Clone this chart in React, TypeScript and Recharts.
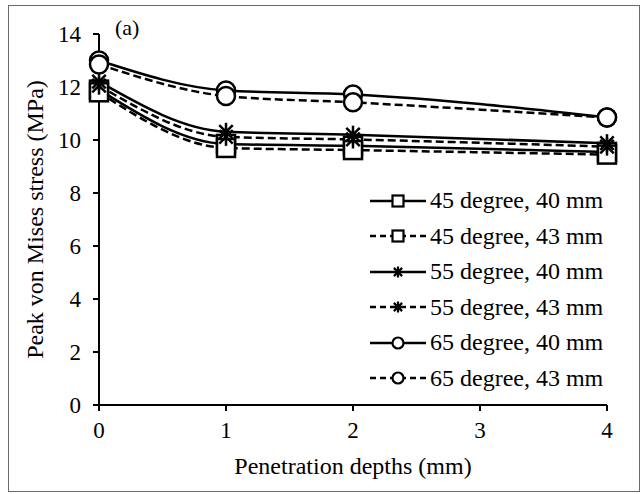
import { LineChart, Line, XAxis, YAxis, Legend } from 'recharts'

// penetration depth (mm) on x, peak von Mises stress (MPa) on y
const depths = [0, 1, 2, 4]
const deg45mm40 = [11.9, 9.85, 9.78, 9.55]
const deg45mm43 = [11.8, 9.7, 9.62, 9.45]
const deg55mm40 = [12.2, 10.31, 10.2, 9.88]
const deg55mm43 = [12.05, 10.12, 10.02, 9.75]
const deg65mm40 = [13.0, 11.87, 11.72, 10.85]
const deg65mm43 = [12.85, 11.66, 11.42, 10.85]

const xTicks = [0, 1, 2, 3, 4]
const yTicks = [0, 2, 4, 6, 8, 10, 12, 14]

const series = [
  { key: 's1', name: '45 degree, 40 mm', values: deg45mm40, marker: 'square', dashed: false },
  { key: 's2', name: '45 degree, 43 mm', values: deg45mm43, marker: 'square', dashed: true },
  { key: 's3', name: '55 degree, 40 mm', values: deg55mm40, marker: 'star', dashed: false },
  { key: 's4', name: '55 degree, 43 mm', values: deg55mm43, marker: 'star', dashed: true },
  { key: 's5', name: '65 degree, 40 mm', values: deg65mm40, marker: 'circle', dashed: false },
  { key: 's6', name: '65 degree, 43 mm', values: deg65mm43, marker: 'circle', dashed: true },
]

const data = depths.map((d, i) => {
  const row: Record<string, number> = { depth: d }
  series.forEach((s) => {
    row[s.key] = s.values[i]
  })
  return row
})

const FONT = "'Liberation Serif', 'Times New Roman', serif"
const DASH = '8 4'

function Marker({ kind, x, y, s, sw }: { kind: string; x: number; y: number; s: number; sw: number }) {
  if (kind === 'square') {
    return <rect x={x - s} y={y - s} width={2 * s} height={2 * s} fill="#fff" stroke="#000" strokeWidth={sw} />
  }
  if (kind === 'circle') {
    return <circle cx={x} cy={y} r={s} fill="#fff" stroke="#000" strokeWidth={sw} />
  }
  const d = s * 0.75
  return (
    <g stroke="#000" strokeWidth={sw}>
      <line x1={x} y1={y - s} x2={x} y2={y + s} />
      <line x1={x - d} y1={y - d} x2={x + d} y2={y + d} />
      <line x1={x - d} y1={y + d} x2={x + d} y2={y - d} />
    </g>
  )
}

const dotFor = (kind: string) => (props: any) => {
  const { cx, cy, index } = props
  if (cx == null || cy == null) return <g key={index} />
  return (
    <g key={`dot-${kind}-${index}`}>
      <Marker kind={kind} x={cx} y={cy} s={9} sw={2.5} />
    </g>
  )
}

function LegendBox() {
  return (
    <div style={{ fontFamily: FONT, fontSize: 24, color: '#000' }}>
      {series.map((s) => (
        <div key={s.key} style={{ display: 'flex', alignItems: 'center', height: 35.5 }}>
          <svg width={58} height={20} style={{ display: 'block' }}>
            <line x1={1} y1={10} x2={57} y2={10} stroke="#000" strokeWidth={2.5} strokeDasharray={s.dashed ? '6 4' : undefined} />
            <Marker kind={s.marker} x={29} y={10} s={5.5} sw={2.2} />
          </svg>
          <span style={{ marginLeft: 3, whiteSpace: 'nowrap' }}>{s.name}</span>
        </div>
      ))}
    </div>
  )
}

export default function App() {
  return (
    <div style={{ position: 'absolute', left: 0, top: 0, width: 641, height: 494, background: '#fff', fontFamily: FONT }}>
      <div
        style={{
          position: 'absolute',
          left: 8,
          top: 5,
          width: 632,
          height: 487,
          border: '1px solid #6b6b6b',
          boxSizing: 'border-box',
        }}
      />
      <div style={{ position: 'absolute', left: 0, top: 0 }}>
        <LineChart width={641} height={494} data={data} margin={{ top: 34, right: 34, left: 34, bottom: 49 }}>
          <XAxis
            dataKey="depth"
            type="number"
            domain={[0, 4]}
            ticks={xTicks}
            height={40}
            tickSize={6}
            tickMargin={11}
            axisLine={{ stroke: '#000', strokeWidth: 2 }}
            tickLine={{ stroke: '#000', strokeWidth: 2 }}
            tick={{ fill: '#000', fontSize: 23, fontFamily: FONT }}
            label={{ value: 'Penetration depths (mm)', position: 'bottom', offset: 12, fill: '#000', fontSize: 24, fontFamily: FONT }}
          />
          <YAxis
            type="number"
            domain={[0, 14]}
            ticks={yTicks}
            width={65}
            tickSize={6}
            tickMargin={12}
            axisLine={{ stroke: '#000', strokeWidth: 2 }}
            tickLine={{ stroke: '#000', strokeWidth: 2 }}
            tick={{ fill: '#000', fontSize: 23, fontFamily: FONT }}
            label={{
              value: 'Peak von Mises stress (MPa)',
              angle: -90,
              position: 'insideLeft',
              offset: 0,
              fill: '#000',
              fontSize: 24,
              fontFamily: FONT,
              style: { textAnchor: 'middle' },
            }}
          />
          <Legend
            layout="horizontal"
            verticalAlign="middle"
            align="center"
            content={() => <LegendBox />}
            wrapperStyle={{ left: 369, top: 183, width: 'auto', height: 'auto' }}
          />
          {series.map((s) => (
            <Line
              key={s.key}
              dataKey={s.key}
              name={s.name}
              type="monotone"
              stroke="#000"
              strokeWidth={2.5}
              strokeDasharray={s.dashed ? DASH : undefined}
              dot={dotFor(s.marker)}
              activeDot={false}
              isAnimationActive={false}
            />
          ))}
        </LineChart>
      </div>
      <div style={{ position: 'absolute', left: 115, top: 15, fontSize: 22, lineHeight: '26px', color: '#000' }}>(a)</div>
    </div>
  )
}
